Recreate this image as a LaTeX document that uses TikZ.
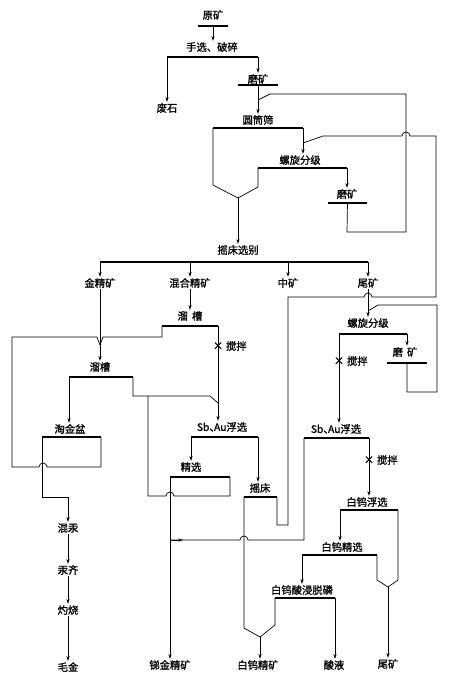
\documentclass[tikz,border=0pt]{standalone}
\usepackage{fontspec}
\newfontfamily\cjk[FakeBold=1.2]{Noto Sans CJK SC}
\usetikzlibrary{arrows.meta,positioning}

\begin{document}
\begin{tikzpicture}[x=0.03cm,y=-0.03cm,>={Stealth[length=4pt,width=2.6pt]}]
  \tikzstyle{lbl}=[font=\cjk\fontsize{8.8}{10}\selectfont,inner sep=1pt]
  \tikzstyle{opbar}=[line width=1.6pt]
  \tikzstyle{flow}=[line width=0.6pt]
  \useasboundingbox (0,0) rectangle (453,686);
  % labels
  \node[lbl] (ky) at (213,15) {原矿};
  \node[lbl] (ps) at (212,47) {手选、破碎};
  \node[lbl] (fs) at (167,108) {废石};
  \node[lbl] (mk1) at (258,79) {磨矿};
  \node[lbl] (ytx) at (258,120) {圆筒筛};
  \node[lbl] (lxa) at (300,160) {螺旋分级};
  \node[lbl] (mka) at (347,194) {磨矿};
  \node[lbl] (ycx) at (238,250) {摇床选别};
  \node[lbl] (jjk) at (100,283) {金精矿};
  \node[lbl] (hjk) at (190,283) {混合精矿};
  \node[lbl] (zk) at (288,283) {中矿};
  \node[lbl] (wka) at (368,283) {尾矿};
  \node[lbl] (lca) at (190,316) {溜\hspace{0.4em}槽};
  \node[lbl] (lcb) at (100,367) {溜槽};
  \node[lbl] (tjp) at (70,429) {淘金盆};
  \node[lbl] (sba) at (222,427) {Sb、\kern-0.55em Au浮选};
  \node[lbl] (jx) at (191,467) {精选};
  \node[lbl] (ycb) at (260,488) {摇床};
  \node[lbl] (lxb) at (368,323) {螺旋分级};
  \node[lbl] (mkb) at (405,352) {磨\hspace{0.4em}矿};
  \node[lbl] (sbb) at (336,429) {Sb、\kern-0.55em Au浮选};
  \node[lbl] (bwf) at (367,502) {白钨浮选};
  \node[lbl] (bwj) at (342,547) {白钨精选};
  \node[lbl] (bws) at (302,590) {白钨酸浸脱磷};
  \node[lbl] (hg) at (68,528) {混汞};
  \node[lbl] (hq) at (68,570) {汞齐};
  \node[lbl] (zs) at (68,610) {灼烧};
  \node[lbl] (mj) at (68,667) {毛金};
  \node[lbl] (tjk) at (170,665) {锑金精矿};
  \node[lbl] (bwk) at (258,665) {白钨精矿};
  \node[lbl] (sy) at (334,665) {酸液};
  \node[lbl] (wkb) at (388,664) {尾矿};
  \node[lbl] (xa) at (218,346) {×};
  \node[lbl,right=0pt of xa] (jba) {搅拌};
  \node[lbl] (xb) at (339,361) {×};
  \node[lbl,right=0pt of xb] (jbb) {搅拌};
  \node[lbl] (xc) at (369,460) {×};
  \node[lbl,right=0pt of xc] (jbc) {搅拌};
  % bars
  \draw[opbar] (198,26) -- coordinate (kyb) (228,26);
  \draw[opbar] (167,57) coordinate (psl) -- (258,57) coordinate (psr);
  \draw[opbar] (238,85) -- coordinate (mk1b) (278,85);
  \draw[opbar] (213,128) coordinate (ytl) -- (303,128) coordinate (ytr);
  \draw[opbar] (258,168) coordinate (lxal) -- (347,168) coordinate (lxar);
  \draw[opbar] (328,203) -- coordinate (mkab) (367,203);
  \draw[opbar] (100,262) coordinate (ycl) -- (368,262) coordinate (ycr);
  \draw[opbar] (162,326) coordinate (lcal) -- (218,326) coordinate (lcar);
  \draw[opbar] (69,377) coordinate (lcbl) -- (133,377) coordinate (lcbr);
  \draw[opbar] (42,437) coordinate (tjl) -- (101,437) coordinate (tjr);
  \draw[opbar] (191,437) coordinate (sbal) -- (258,437) coordinate (sbar);
  \draw[opbar] (170,477) coordinate (jxl) -- (230,477) coordinate (jxr);
  \draw[opbar] (244,497) coordinate (ycbl) -- (277,497) coordinate (ycbr);
  \draw[opbar] (339,334) coordinate (lxbl) -- (407,334) coordinate (lxbr);
  \draw[opbar] (387,363) -- coordinate (mkbb) (427,363);
  \draw[opbar] (304,438) coordinate (sbbl) -- (369,438) coordinate (sbbr);
  \draw[opbar] (340,510) coordinate (bwfl) -- (398,510) coordinate (bwfr);
  \draw[opbar] (302,555) coordinate (bwjl) -- (377,555) coordinate (bwjr);
  \draw[opbar] (275,598) coordinate (bwsl) -- (335,598) coordinate (bwsr);
  % merge points
  \coordinate (ytv) at (238,198);
  \coordinate (hd) at (100,345);
  \coordinate (wkv) at (388,587);
  \coordinate (bwv) at (260,637);
  \coordinate (mfa) at (258,100);
  \coordinate (mfb) at (303,143);
  \coordinate (mfc) at (218,403);
  \coordinate (mfd) at (368,311);
  \coordinate (tjm) at (170,540);
  % flows
  \draw[flow,->] (kyb) -- (kyb |- ps.north);
  \draw[flow,->] (psl) -- (fs.north);
  \draw[flow,->] (psr) -- (mk1.north);
  \draw[flow,->] (mk1b) -- (mk1b |- ytx.north);
  \draw[flow] (mkab) -- (347,232) -- (406,232) -- (406,94) -- (270,94) -- (mfa);
  \draw[flow] (ytl) -- (213,185) -- (ytv) -- (258,187) -- (lxal);
  \draw[flow,->] (ytv) -- (ytv |- ycx.north);
  \draw[flow,->] (ytr) -- (ytr |- lxa.north);
  \draw[flow,->] (lxar) -- (lxar |- mka.north);
  \draw[flow] (ycbr) -- (277,525) -- (288,525) -- (288,297) -- (364,297)
    arc[start angle=180,end angle=360,radius=4] -- (436,297) -- (436,136) -- (410,136)
    arc[start angle=0,end angle=-180,radius=4] -- (323,136) -- (mfb);
  \draw[flow,->] (ycl) -- (jjk.north);
  \draw[flow,->] (hjk |- ycl) -- (hjk.north);
  \draw[flow,->] (zk |- ycl) -- (zk.north);
  \draw[flow,->] (ycr) -- (wka.north);
  \draw[flow,->] (hjk.south) -- (lca.north);
  \draw[flow] (lcal) -- (162,337) -- (103,337) -- (hd);
  \draw[flow] (jjk.south) -- (hd);
  \draw[flow,->] (hd) -- (lcb.north);
  \draw[flow] (tjr) -- (101,467) -- (47,467) arc[start angle=0,end angle=-180,radius=4]
    -- (12,467) -- (12,337) -- (97,337) -- (hd);
  \draw[flow,->] (lcbl) -- (lcbl |- tjp.north);
  \draw[flow] (lcbr) -- (133,396) -- (210,396) -- (mfc);
  \draw[flow] (jxr) -- (230,496) -- (174,496) arc[start angle=0,end angle=-180,radius=4]
    -- (148,496) -- (148,396);
  \draw[flow,->] (lcar) -- (lcar |- sba.north);
  \draw[flow,->] (tjl) -- (42,497) -| (hg.north);
  \draw[flow,->] (hg.south) -- (hq.north);
  \draw[flow,->] (hq.south) -- (zs.north);
  \draw[flow,->] (zs.south) -- (mj.north);
  \draw[flow,->] (sbal) -- (sbal |- jx.north);
  \draw[flow,->] (sbar) -- (sbar |- ycb.north);
  \draw[flow,->] (jxl) -- (jxl |- tjk.north);
  \draw[flow] (sbbl) -- (304,540) -- (248,540) arc[start angle=0,end angle=-180,radius=4]
    -- (tjm);
  \draw[flow,->] (tjm) -- ++(13,0);
  \draw[flow] (ycbl) -- (244,628) -- (bwv);
  \draw[flow] (bwsl) -- (275,625) -- (bwv);
  \draw[flow,->] (bwv) -- (bwv |- bwk.north);
  \draw[flow,->] (bwsr) -- (bwsr |- sy.north);
  \draw[flow,->] (wka.south) -- (lxb.north);
  \draw[flow] (mkbb) -- (407,392) -- (437,392) -- (437,305) -- (378,305) -- (mfd);
  \draw[flow,->] (lxbr) -- (lxbr |- mkb.north);
  \draw[flow,->] (lxbl) -- (lxbl |- sbb.north);
  \draw[flow,->] (sbbr) -- (sbbr |- bwf.north);
  \draw[flow,->] (bwfl) -- (bwfl |- bwj.north);
  \draw[flow] (bwfr) -- (398,580) -- (wkv);
  \draw[flow] (bwjr) -- (377,580) -- (wkv);
  \draw[flow,->] (wkv) -- (wkv |- wkb.north);
  \draw[flow,->] (bwjl) -- (bwjl |- bws.north);
\end{tikzpicture}
\end{document}
